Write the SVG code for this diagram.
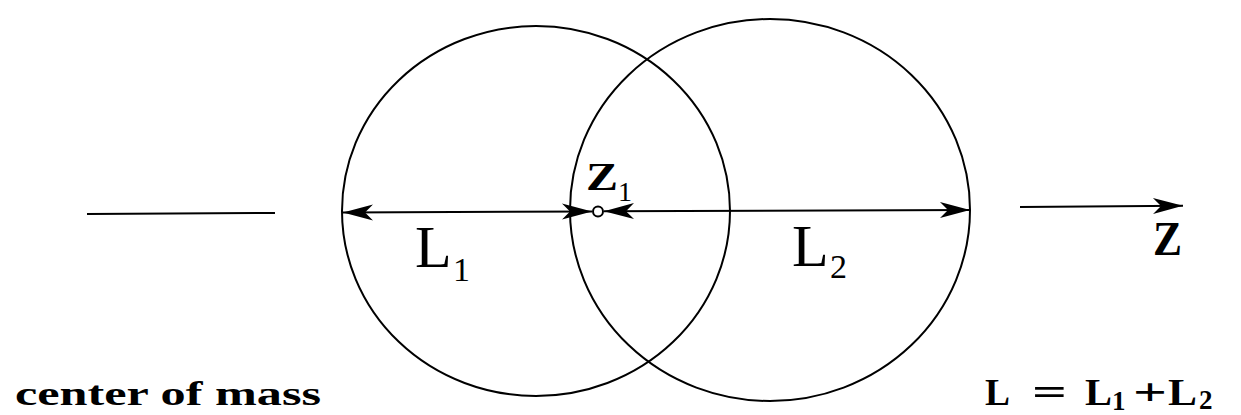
<svg xmlns="http://www.w3.org/2000/svg" width="1241" height="415" viewBox="0 0 1241 415">
<style>
.ln{stroke:#000;stroke-width:2;fill:none}
.rm{font-family:"Liberation Serif","Times New Roman",serif;fill:#000}
.bd{font-family:"Liberation Serif","Times New Roman",serif;font-weight:bold;fill:#000}
</style>
<defs>
<marker id="ah" viewBox="-32 -9 34 18" refX="0" refY="0" markerWidth="34" markerHeight="18" markerUnits="userSpaceOnUse" orient="auto-start-reverse">
<path d="M0,0 L-30,-8 L-22,0 L-30,8 Z" fill="#000"/>
</marker>
</defs>
<rect width="1241" height="415" fill="#fff"/>
<g id="circle-left"><ellipse class="ln" cx="536" cy="211" rx="194" ry="185"/></g>
<g id="circle-right"><ellipse class="ln" cx="770" cy="210" rx="200" ry="191"/></g>
<g id="connectors">
<line class="ln" x1="87" y1="214" x2="275" y2="213"/>
<line class="ln" x1="343" y1="212.5" x2="592" y2="211.5" marker-start="url(#ah)" marker-end="url(#ah)"/>
<line class="ln" x1="604" y1="211.2" x2="970" y2="210" marker-start="url(#ah)" marker-end="url(#ah)"/>
<line class="ln" x1="1020" y1="207" x2="1183" y2="205.7" marker-end="url(#ah)"/>
</g>
<g id="z1-point">
<circle cx="598" cy="211.5" r="5" fill="#fff" stroke="#000" stroke-width="2"/>
<text class="bd" x="586" y="190" font-size="40" textLength="32" lengthAdjust="spacingAndGlyphs">Z</text>
<text class="rm" x="618" y="201" font-size="28">1</text>
</g>
<g id="label-L1">
<text class="rm" x="415" y="267" font-size="60">L</text>
<text class="rm" x="453" y="281" font-size="34">1</text>
</g>
<g id="label-L2">
<text class="rm" x="792" y="266" font-size="60">L</text>
<text class="rm" x="830" y="278" font-size="34">2</text>
</g>
<g id="axis-label"><text class="bd" x="1153" y="255" font-size="48" textLength="29" lengthAdjust="spacingAndGlyphs">Z</text></g>
<g id="center-of-mass"><text class="bd" x="15" y="405" font-size="33" textLength="306" lengthAdjust="spacingAndGlyphs">center of mass</text></g>
<g id="formula">
<text class="bd" x="985" y="405" font-size="38" textLength="25" lengthAdjust="spacingAndGlyphs">L</text>
<text class="bd" x="1032" y="405" font-size="38" textLength="35" lengthAdjust="spacingAndGlyphs">=</text>
<text class="bd" x="1085" y="405" font-size="38" textLength="27" lengthAdjust="spacingAndGlyphs">L</text>
<text class="bd" x="1112" y="410" font-size="27">1</text>
<text class="bd" x="1133" y="405" font-size="38" textLength="34" lengthAdjust="spacingAndGlyphs">+</text>
<text class="bd" x="1168" y="405" font-size="38" textLength="29" lengthAdjust="spacingAndGlyphs">L</text>
<text class="bd" x="1199" y="409" font-size="27">2</text>
</g>
</svg>
